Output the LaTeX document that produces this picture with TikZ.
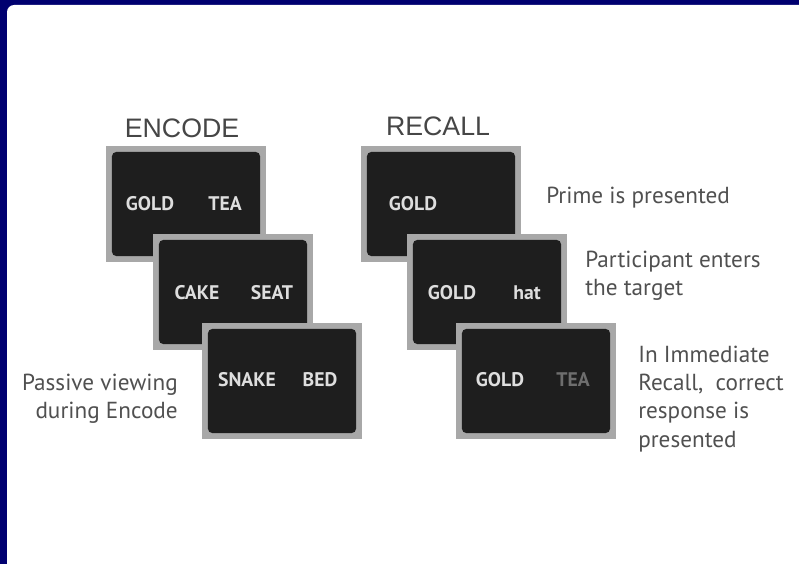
\documentclass[tikz,border=0pt]{standalone}
\usepackage{fontspec}
\setmainfont{PT Sans}
\newfontfamily\headfont{Liberation Sans}
\usetikzlibrary{positioning}

\definecolor{navy}{RGB}{0,0,112}
\definecolor{framegray}{RGB}{168,168,168}
\definecolor{screendark}{RGB}{30,30,30}
\definecolor{wordgray}{RGB}{222,222,222}
\definecolor{dimword}{RGB}{110,110,110}
\definecolor{notegray}{RGB}{80,80,80}
\definecolor{headgray}{RGB}{70,70,70}

\tikzset{
  cardframe/.style={fill=framegray, minimum width=4cm, minimum height=2.9cm, inner sep=0},
  cardscreen/.style={fill=screendark, rounded corners=3pt, minimum width=3.7cm, minimum height=2.6cm, inner sep=0},
  cardword/.style={text=wordgray, font=\bfseries\fontsize{14}{16}\selectfont, inner sep=0},
  sidenote/.style={text=notegray, font=\fontsize{16.5}{20}\selectfont, inner sep=0},
  headline/.style={text=headgray, font=\headfont\fontsize{19}{22}\selectfont, inner sep=0}
}

\begin{document}
\begin{tikzpicture}[x=0.025cm, y=-0.025cm]
  \useasboundingbox (0,0) rectangle (799,564);
  % background
  \fill[navy] (0,0) rectangle (799,564);
  \fill[white] (7,564) [rounded corners=5pt] -- (7,5) [sharp corners] -- (799,5) -- (799,564) -- cycle;

  % headings
  \node[headline, anchor=base] (enchead) at (182,137) {ENCODE};
  \node[headline, anchor=base] (rechead) at (438,135) {RECALL};

  % encode cards
  \node[cardframe] (enc1) at (186,204) {};
  \node[cardscreen] (encs1) at (enc1) {};
  \node[cardword] (enc1a) at (150,204) {GOLD};
  \node[cardword] (enc1b) at (225,204) {TEA};

  \node[cardframe] (enc2) at (233,292) {};
  \node[cardscreen] (encs2) at (enc2) {};
  \node[cardword] (enc2a) at (197,293) {CAKE};
  \node[cardword] (enc2b) at (272,293) {SEAT};

  \node[cardframe] (enc3) at (282,381) {};
  \node[cardscreen] (encs3) at (enc3) {};
  \node[cardword] (enc3a) at (247,380) {SNAKE};
  \node[cardword] (enc3b) at (320,380) {BED};

  % recall cards
  \node[cardframe] (rec1) at (441,204) {};
  \node[cardscreen] (recs1) at (rec1) {};
  \node[cardword] (rec1a) at (413,204) {GOLD};

  \node[cardframe] (rec2) at (487,292) {};
  \node[cardscreen] (recs2) at (rec2) {};
  \node[cardword] (rec2a) at (452,293) {GOLD};
  \node[cardword] (rec2b) at (527,293) {hat};

  \node[cardframe] (rec3) at (536,381) {};
  \node[cardscreen] (recs3) at (rec3) {};
  \node[cardword] (rec3a) at (500,380) {GOLD};
  \node[cardword, text=dimword] (rec3b) at (573,380) {TEA};

  % side notes
  \node[sidenote, anchor=base west] (prime) at (546,203) {Prime is presented};
  \node[sidenote, anchor=west, align=left] (enter) at (585,276) {Participant enters\\the target};
  \node[sidenote, anchor=west, align=left] (correct) at (638,399) {In Immediate\\Recall,\ \ correct\\response is\\presented};
  \node[sidenote, anchor=east, align=right] (passive) at (178,399) {Passive viewing\\during Encode};
\end{tikzpicture}
\end{document}
